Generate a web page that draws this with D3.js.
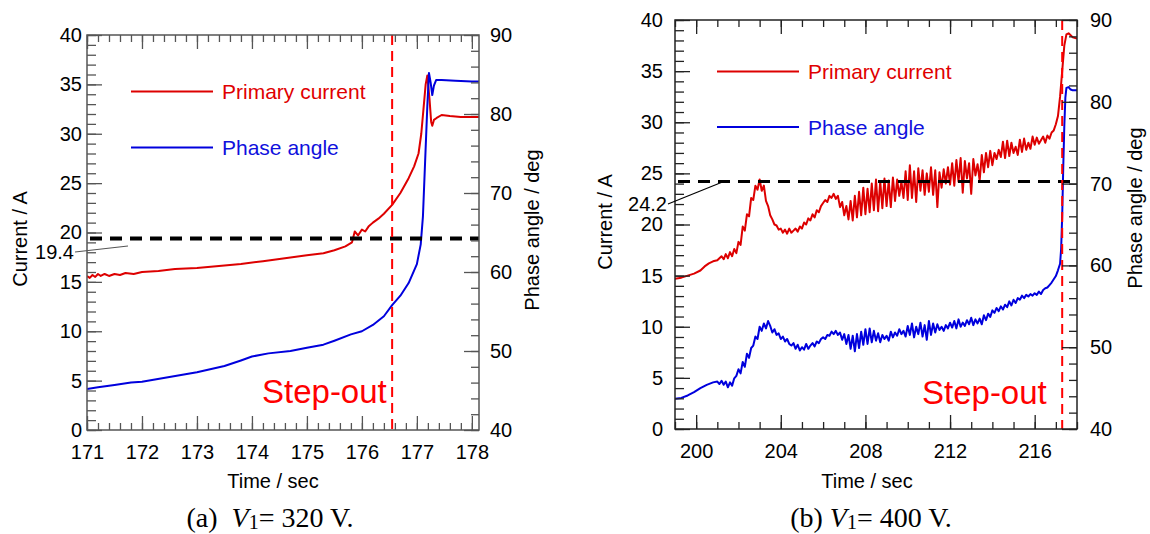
<!DOCTYPE html>
<html>
<head>
<meta charset="utf-8">
<script src="https://cdn.jsdelivr.net/npm/d3@7"></script>
<style>
body { margin: 0; background: #fff; }
text { font-family: "Liberation Sans", Arial, sans-serif; }
.serif { font-family: "Liberation Serif", "Times New Roman", serif; white-space: pre; }
</style>
</head>
<body>
<svg id="chart" width="1150" height="534"></svg>
<script>
// (a) V1 = 320 V : [time sec, current A]
var currentA = [
  [171.00,15.6],[171.05,15.4],[171.10,15.7],[171.15,15.5],[171.20,15.8],[171.25,15.6],
  [171.32,15.8],[171.40,15.6],[171.50,15.8],[171.60,15.7],[171.70,15.9],[171.85,15.8],
  [172.0,16.0],[172.3,16.1],[172.6,16.3],[173.0,16.4],[173.4,16.6],[173.8,16.8],
  [174.2,17.1],[174.6,17.4],[175.0,17.7],[175.3,17.9],[175.5,18.2],[175.7,18.6],
  [175.82,19.0],[175.87,20.1],[175.93,19.7],[176.0,20.3],[176.06,20.1],[176.12,20.6],
  [176.2,21.0],[176.3,21.4],[176.4,21.9],[176.55,22.8],[176.7,24.0],[176.85,25.5],
  [176.95,26.7],[177.03,28.0],[177.08,30.0],[177.12,32.5],[177.16,35.0],[177.19,35.9],
  [177.23,33.5],[177.26,31.2],[177.28,30.8],[177.31,31.4],[177.36,31.6],[177.45,31.9],
  [177.6,31.8],[177.8,31.7],[178.0,31.7],[178.13,31.7]
];
// (a) [time sec, phase angle deg]
var phaseA = [
  [171.0,45.2],[171.2,45.4],[171.5,45.7],[171.8,46.0],[172.0,46.1],[172.5,46.7],
  [173.0,47.3],[173.5,48.1],[173.8,48.8],[174.0,49.3],[174.3,49.7],[174.7,50.0],
  [175.0,50.4],[175.3,50.8],[175.5,51.3],[175.8,52.1],[176.0,52.5],[176.2,53.3],
  [176.4,54.4],[176.55,55.8],[176.7,57.0],[176.85,58.6],[177.0,61.0],[177.07,63.5],
  [177.11,67.0],[177.15,74.0],[177.19,81.0],[177.22,85.2],[177.25,84.0],[177.28,82.4],
  [177.31,83.6],[177.35,84.3],[177.45,84.3],[177.7,84.2],[178.0,84.1],[178.13,84.1]
];
// (b) V1 = 400 V : [time sec, current A]
var currentB = [
  [199.0,14.7],[199.3,14.8],[199.6,15.0],[199.9,15.2],[200.2,15.5],[200.4,15.9],
  [200.6,16.2],[200.8,16.4],[201.0,16.5],[201.2,16.9],[201.3,16.6],[201.4,17.1],
  [201.5,16.7],[201.6,17.3],[201.7,16.9],[201.8,17.6],[201.9,17.2],[202.0,18.3],
  [202.1,18.0],[202.2,19.8],[202.3,19.4],[202.4,21.0],[202.5,20.8],[202.6,22.6],
  [202.7,22.4],[202.8,23.8],[202.9,23.4],[203.0,24.4],[203.1,23.3],[203.2,23.8],
  [203.3,22.3],[203.4,21.8],[203.5,20.9],[203.6,20.5],[203.7,20.0],[203.8,19.9],
  [203.9,19.5],[204.0,19.6],[204.1,19.2],[204.2,19.5],[204.3,19.1],[204.4,19.6],
  [204.5,19.2],[204.6,19.4],[204.7,19.6],[204.8,19.3],[204.9,19.8],[205.0,19.6],
  [205.1,20.2],[205.2,20.0],[205.3,20.6],[205.4,20.4],[205.5,21.0],[205.6,20.7],
  [205.7,21.4],[205.8,21.2],[205.9,21.8],[206.0,22.1],[206.1,22.4],[206.2,22.2],
  [206.3,22.8],[206.4,22.6],[206.5,23.0],[206.6,22.5],[206.7,22.8],[206.8,21.7],
  [206.9,22.2],[207.0,20.9],[207.1,21.8],[207.2,20.5],[207.3,22.3],[207.4,20.4],
  [207.5,22.8],[207.6,20.7],[207.7,23.2],[207.8,20.9],[207.9,23.6],[208.0,21.0],
  [208.1,23.5],[208.2,21.2],[208.3,24.0],[208.4,21.4],[208.5,24.4],[208.6,21.3],
  [208.7,24.2],[208.8,21.6],[208.9,24.5],[209.0,21.8],[209.1,24.3],[209.2,21.7],
  [209.3,24.6],[209.4,22.3],[209.5,24.4],[209.6,22.8],[209.7,24.2],[209.8,22.6],
  [209.9,25.2],[210.0,22.4],[210.1,25.8],[210.2,22.6],[210.3,25.2],[210.4,22.2],
  [210.5,25.5],[210.6,23.3],[210.7,25.3],[210.8,22.9],[210.9,25.0],[211.0,23.2],
  [211.1,25.6],[211.2,22.9],[211.3,25.3],[211.4,21.7],[211.5,25.1],[211.6,23.6],
  [211.7,25.4],[211.8,24.0],[211.9,25.6],[212.0,23.9],[212.1,26.0],[212.2,23.8],
  [212.3,26.3],[212.4,24.2],[212.5,26.5],[212.6,23.1],[212.7,26.2],[212.8,24.5],
  [212.9,26.0],[213.0,23.0],[213.1,26.4],[213.2,24.8],[213.3,25.9],[213.4,24.3],
  [213.5,26.8],[213.6,25.1],[213.7,27.0],[213.8,25.6],[213.9,27.2],[214.0,25.8],
  [214.1,27.0],[214.2,26.4],[214.3,27.3],[214.4,26.6],[214.5,28.1],[214.6,26.5],
  [214.7,28.2],[214.8,26.7],[214.9,28.0],[215.0,27.0],[215.1,27.6],[215.2,26.8],
  [215.3,28.3],[215.4,27.1],[215.5,28.4],[215.6,27.3],[215.7,28.0],[215.8,27.4],
  [215.9,28.6],[216.0,27.8],[216.1,28.5],[216.2,27.9],[216.4,28.6],[216.5,28.0],
  [216.6,28.7],[216.7,28.4],[216.8,29.0],[216.9,29.2],[217.0,29.8],[217.1,30.6],
  [217.2,32.5],[217.3,35.0],[217.4,37.5],[217.5,38.6],[217.6,38.7],[217.7,38.5],
  [217.8,38.3],[218.0,38.2]
];
// (b) [time sec, phase angle deg]
var phaseB = [
  [199.0,43.7],[199.3,43.8],[199.6,44.1],[199.9,44.5],[200.2,45.0],[200.5,45.4],
  [200.8,45.7],[201.0,45.8],[201.1,45.5],[201.2,45.9],[201.3,45.4],[201.4,45.8],
  [201.5,45.1],[201.6,45.7],[201.7,45.3],[201.8,46.2],[201.9,46.5],[202.0,47.3],
  [202.1,46.8],[202.2,48.2],[202.3,47.6],[202.4,49.2],[202.5,48.7],[202.6,49.9],
  [202.7,50.2],[202.8,51.3],[202.9,51.0],[203.0,52.5],[203.1,52.0],[203.2,52.9],
  [203.3,52.3],[203.4,53.2],[203.5,52.6],[203.6,51.8],[203.7,52.2],[203.8,51.5],
  [203.9,51.7],[204.0,51.0],[204.1,51.3],[204.2,50.7],[204.3,51.0],[204.4,50.4],
  [204.5,50.2],[204.6,50.5],[204.7,49.8],[204.8,50.3],[204.9,49.6],[205.0,50.0],
  [205.1,49.7],[205.2,50.4],[205.3,49.8],[205.4,50.2],[205.5,50.5],[205.6,50.1],
  [205.7,50.7],[205.8,50.5],[205.9,51.0],[206.0,51.2],[206.1,51.0],[206.2,51.5],
  [206.3,51.4],[206.4,51.9],[206.5,51.6],[206.6,52.0],[206.7,51.5],[206.8,51.8],
  [206.9,50.9],[207.0,51.6],[207.1,50.4],[207.2,51.5],[207.3,49.8],[207.4,51.4],
  [207.5,49.5],[207.6,51.6],[207.7,49.9],[207.8,51.9],[207.9,50.3],[208.0,52.2],
  [208.1,50.4],[208.2,52.3],[208.3,50.6],[208.4,52.0],[208.5,50.8],[208.6,51.7],
  [208.7,50.6],[208.8,51.5],[208.9,51.0],[209.0,51.4],[209.1,50.8],[209.2,51.9],
  [209.3,51.2],[209.4,51.8],[209.5,51.4],[209.6,52.2],[209.7,51.6],[209.8,52.0],
  [209.9,51.3],[210.0,52.6],[210.1,51.5],[210.2,52.9],[210.3,51.2],[210.4,52.5],
  [210.5,51.6],[210.6,53.0],[210.7,51.3],[210.8,52.7],[210.9,50.9],[211.0,53.2],
  [211.1,51.5],[211.2,52.9],[211.3,51.8],[211.4,52.8],[211.5,52.1],[211.6,52.5],
  [211.7,52.0],[211.8,52.7],[211.9,52.3],[212.0,53.0],[212.1,52.4],[212.2,53.2],
  [212.3,52.3],[212.4,53.4],[212.5,52.5],[212.6,53.0],[212.7,52.6],[212.8,53.3],
  [212.9,52.8],[213.0,53.6],[213.1,52.7],[213.2,53.4],[213.3,52.9],[213.4,53.5],
  [213.5,52.8],[213.6,53.9],[213.7,53.3],[213.8,54.1],[213.9,53.7],[214.0,54.5],
  [214.1,54.2],[214.2,54.8],[214.3,54.4],[214.4,55.0],[214.5,54.6],[214.6,55.2],
  [214.7,54.9],[214.8,55.6],[214.9,55.1],[215.0,55.8],[215.1,55.4],[215.2,56.0],
  [215.3,55.8],[215.4,56.3],[215.5,56.0],[215.6,56.4],[215.7,56.2],[215.8,56.5],
  [215.9,56.3],[216.0,56.6],[216.1,56.4],[216.2,56.8],[216.3,56.5],[216.4,57.0],
  [216.5,57.2],[216.6,57.3],[216.7,57.6],[216.8,57.9],[216.9,58.3],[217.0,58.7],
  [217.1,59.4],[217.2,60.2],[217.25,62.0],[217.3,66.0],[217.35,72.0],[217.4,77.0],
  [217.45,80.5],[217.5,81.7],[217.6,81.8],[217.7,81.5],[217.8,81.4],[218.0,81.4]
];

// dashed reference values
var thresholdA = 19.4, stepOutA = 176.55;
var thresholdB = 24.2, stepOutB = 217.3;

var red = "#dd0000", blue = "#0000dd";
var svg = d3.select("#chart");

// inward ticks, domain line removed (frame drawn separately)
function addAxis(g, axis, transform, values, size, labels, pad, col) {
  axis.tickValues(values).tickSize(-size).tickPadding(pad);
  if (!labels) axis.tickFormat("");
  var ag = g.append("g").attr("transform", transform).call(axis);
  ag.attr("font-size", 20).attr("font-family", null);
  ag.select(".domain").remove();
  ag.selectAll("line").attr("stroke", col).attr("stroke-width", 1.3);
  ag.selectAll("text").attr("fill", "#000");
  return ag;
}

function drawPanel(p) {
  var x = d3.scaleLinear().domain(p.xDomain).range([p.left, p.right]);
  var yC = d3.scaleLinear().domain([0, 40]).range([p.bottom, p.top]);
  var yP = d3.scaleLinear().domain([40, 90]).range([p.bottom, p.top]);
  var g = svg.append("g");

  g.append("clipPath").attr("id", "clip" + p.id)
    .append("rect").attr("x", p.left).attr("y", p.top)
    .attr("width", p.right - p.left).attr("height", p.bottom - p.top);

  var lineC = d3.line().x(function(d) { return x(d[0]); }).y(function(d) { return yC(d[1]); });
  var lineP = d3.line().x(function(d) { return x(d[0]); }).y(function(d) { return yP(d[1]); });

  var plot = g.append("g").attr("clip-path", "url(#clip" + p.id + ")");
  plot.append("path").datum(p.current).attr("d", lineC)
    .attr("fill", "none").attr("stroke", red).attr("stroke-width", 2).attr("stroke-linejoin", "round");
  plot.append("path").datum(p.phase).attr("d", lineP)
    .attr("fill", "none").attr("stroke", blue).attr("stroke-width", 2).attr("stroke-linejoin", "round");

  // threshold line
  plot.append("line")
    .attr("x1", p.left + 3).attr("x2", p.right)
    .attr("y1", yC(p.threshold)).attr("y2", yC(p.threshold))
    .attr("stroke", "#000").attr("stroke-width", p.dashW).attr("stroke-dasharray", "12,8");
  // step-out line
  plot.append("line")
    .attr("x1", x(p.stepOut)).attr("x2", x(p.stepOut))
    .attr("y1", p.top).attr("y2", p.bottom)
    .attr("stroke", "#ff0000").attr("stroke-width", 2).attr("stroke-dasharray", "10,6");

  // frame
  g.append("rect").attr("x", p.left).attr("y", p.top)
    .attr("width", p.right - p.left).attr("height", p.bottom - p.top)
    .attr("fill", "none").attr("stroke", p.frame).attr("stroke-width", 1.5);

  // axes
  addAxis(g, d3.axisLeft(yC), "translate(" + p.left + ",0)", d3.range(0, 41, 1), 9, false, 0, p.frame);
  addAxis(g, d3.axisLeft(yC), "translate(" + p.left + ",0)", d3.range(0, 41, 5), 15, true, p.padL, p.frame);
  addAxis(g, d3.axisRight(yP), "translate(" + p.right + ",0)", d3.range(40, 91, 2), 8, false, 0, p.frame);
  addAxis(g, d3.axisRight(yP), "translate(" + p.right + ",0)", d3.range(40, 91, 10), 15, true, p.padR, p.frame);
  addAxis(g, d3.axisBottom(x), "translate(0," + p.bottom + ")", p.xMinor, 7, false, 0, p.frame);
  addAxis(g, d3.axisBottom(x), "translate(0," + p.bottom + ")", p.xMajor, 14, true, 15, p.frame);
  addAxis(g, d3.axisTop(x), "translate(0," + p.top + ")", p.xMinor, 7, false, 0, p.frame);
  addAxis(g, d3.axisTop(x), "translate(0," + p.top + ")", p.xMajor, 14, false, 0, p.frame);

  // threshold label with leader
  g.append("line")
    .attr("x1", p.lead[0]).attr("y1", p.lead[1]).attr("x2", p.lead[2]).attr("y2", p.lead[3])
    .attr("stroke", p.leadCol).attr("stroke-width", 1.2);
  g.append("text").attr("x", p.lead[0] - 1).attr("y", p.lead[1] + 7)
    .attr("text-anchor", "end").attr("font-size", 20).text(p.threshold.toFixed(1));

  // legend
  var leg = [["Primary current", red, "#e00000", p.legY[0]], ["Phase angle", blue, "#1010dd", p.legY[1]]];
  leg.forEach(function(l) {
    g.append("line").attr("x1", p.legX).attr("x2", p.legX + 82)
      .attr("y1", l[3]).attr("y2", l[3]).attr("stroke", l[1]).attr("stroke-width", 2);
    g.append("text").attr("x", p.legX + 91).attr("y", l[3] + 7.5)
      .attr("font-size", 21).attr("fill", l[2]).text(l[0]);
  });

  g.append("text").attr("x", p.stepX).attr("y", p.stepY)
    .attr("font-size", 33).attr("fill", "#ff0000").text("Step-out");

  // axis titles
  g.append("text").attr("transform", "translate(" + p.tC[0] + "," + p.tC[1] + ") rotate(-90)")
    .attr("text-anchor", "middle").attr("dy", "0.35em").attr("font-size", 20).text("Current / A");
  g.append("text").attr("transform", "translate(" + p.tP[0] + "," + p.tP[1] + ") rotate(-90)")
    .attr("text-anchor", "middle").attr("dy", "0.35em").attr("font-size", 20).text("Phase angle / deg");
  g.append("text").attr("x", p.tX).attr("y", 488)
    .attr("text-anchor", "middle").attr("font-size", 20).text("Time / sec");

  // caption
  var cap = g.append("text").attr("class", "serif").attr("x", p.capX).attr("y", 527)
    .attr("text-anchor", "middle").attr("font-size", 28);
  cap.append("tspan").text(p.capLabel);
  cap.append("tspan").attr("font-style", "italic").text("V");
  cap.append("tspan").attr("font-size", 20).attr("dy", 2).text("1");
  cap.append("tspan").attr("dy", -2).text("= " + p.capV + " V.");
}

drawPanel({
  id: "a", current: currentA, phase: phaseA, threshold: thresholdA, stepOut: stepOutA,
  xDomain: [171, 178.13], left: 87, right: 479, top: 35, bottom: 430,
  xMajor: d3.range(171, 179, 1), xMinor: d3.range(0, 36).map(function(i) { return 171 + i * 0.2; }),
  padL: 5, padR: 11, frame: "#555", dashW: 4,
  lead: [75, 252, 128, 246], leadCol: "#555",
  legX: 131, legY: [91.5, 147.5], stepX: 262, stepY: 403,
  tC: [20, 239], tP: [532, 230], tX: 273,
  capX: 270, capLabel: "(a)  ", capV: "320"
});

drawPanel({
  id: "b", current: currentB, phase: phaseB, threshold: thresholdB, stepOut: stepOutB,
  xDomain: [199, 218], left: 675, right: 1077, top: 20, bottom: 429,
  xMajor: d3.range(200, 217, 4), xMinor: d3.range(199, 219, 1),
  padL: 12, padR: 13, frame: "#222", dashW: 3,
  lead: [668, 204, 725, 181], leadCol: "#000",
  legX: 717, legY: [71.5, 127], stepX: 922, stepY: 404,
  tC: [605, 222], tP: [1135, 208], tX: 867,
  capX: 871, capLabel: "(b) ", capV: "400"
});
</script>
</body>
</html>
